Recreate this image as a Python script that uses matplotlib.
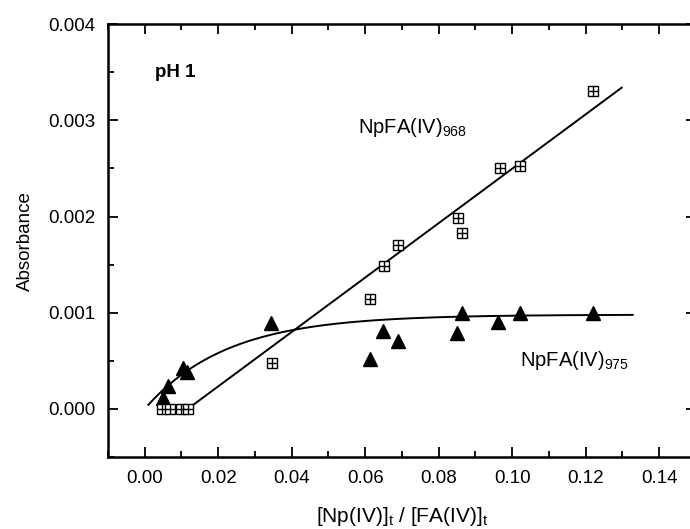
import numpy as np
import matplotlib
matplotlib.use('Agg')
import matplotlib.pyplot as plt
from matplotlib.ticker import MultipleLocator

plt.rcParams['font.family'] = ['Liberation Sans', 'DejaVu Sans']
plt.rcParams['mathtext.default'] = 'regular'

# ── data
x_968 = [0.0046, 0.0068, 0.0098, 0.0117, 0.0346, 0.0612, 0.0650, 0.0689,
         0.0852, 0.0863, 0.0966, 0.1020, 0.1219]
y_968 = [0.0000, 0.0000, 0.0000, 0.0000, 0.00048, 0.00114, 0.00149, 0.00170,
         0.00198, 0.00183, 0.00250, 0.00253, 0.00330]

x_975 = [0.0049, 0.0063, 0.0103, 0.0114, 0.0345, 0.0612, 0.0648, 0.0689,
         0.0849, 0.0863, 0.0961, 0.1020, 0.1219]
y_975 = [0.000115, 0.00024, 0.00043, 0.00038, 0.00089, 0.00052, 0.00081,
         0.00071, 0.00079, 0.00100, 0.00090, 0.00100, 0.00100]

x_ticks = [0.00, 0.02, 0.04, 0.06, 0.08, 0.10, 0.12, 0.14]
y_ticks = [0.000, 0.001, 0.002, 0.003, 0.004]

# fitted lines (parameters)
lin_x0, lin_x1, lin_slope = 0.0117, 0.1298, 0.02827
sat_A, sat_k = 0.00098, 45.0
sat_x0, sat_x1 = 0.001, 0.1328

fig = plt.figure(figsize=(6.90, 5.29), dpi=100, facecolor='white')
ax = fig.add_axes([0.1565, 0.136, 0.852, 0.8185])

xl = np.linspace(lin_x0, lin_x1, 50)
ax.plot(xl, lin_slope * (xl - lin_x0), color='black', lw=1.4, zorder=2)
xs = np.linspace(sat_x0, sat_x1, 200)
ax.plot(xs, sat_A * (1 - np.exp(-sat_k * xs)), color='black', lw=1.4, zorder=2)

ax.plot(x_975, y_975, '^', color='black', markersize=10, ls='none', zorder=3)
ax.plot(x_968, y_968, 's', mfc='white', mec='black', mew=1.0,
        markersize=7, ls='none', zorder=3)
ax.plot(x_968, y_968, '+', color='black', mew=1.0,
        markersize=7, ls='none', zorder=4)

ax.set_xlim(-0.01, 0.15)
ax.set_ylim(-0.0005, 0.004)
ax.xaxis.set_minor_locator(MultipleLocator(0.01))
ax.yaxis.set_minor_locator(MultipleLocator(0.0005))
ax.set_xticks(x_ticks)
ax.set_xticklabels([f'{v:.2f}' for v in x_ticks])
ax.set_yticks(y_ticks)
ax.set_yticklabels([f'{v:.3f}' for v in y_ticks])

ax.tick_params(which='both', direction='in', top=True, right=True,
               labelsize=13.5, width=1.3)
ax.tick_params(which='major', length=7, pad=9)
ax.tick_params(which='minor', length=4)
for s in ax.spines.values():
    s.set_linewidth(1.8)

ax.set_xlabel(r'[Np(IV)]$_t$ / [FA(IV)]$_t$', fontsize=15, labelpad=13)
ax.set_ylabel('Absorbance', fontsize=13.5, labelpad=10)

ax.text(0.0027, 0.0035, 'pH 1', fontsize=13.5, fontweight='bold',
        ha='left', va='center')
ax.text(0.058, 0.00292, r'NpFA(IV)$_{968}$', fontsize=14.5,
        ha='left', va='center')
ax.text(0.102, 0.0005, r'NpFA(IV)$_{975}$', fontsize=14.5,
        ha='left', va='center')

plt.savefig('out.png', dpi=100, facecolor='white')
